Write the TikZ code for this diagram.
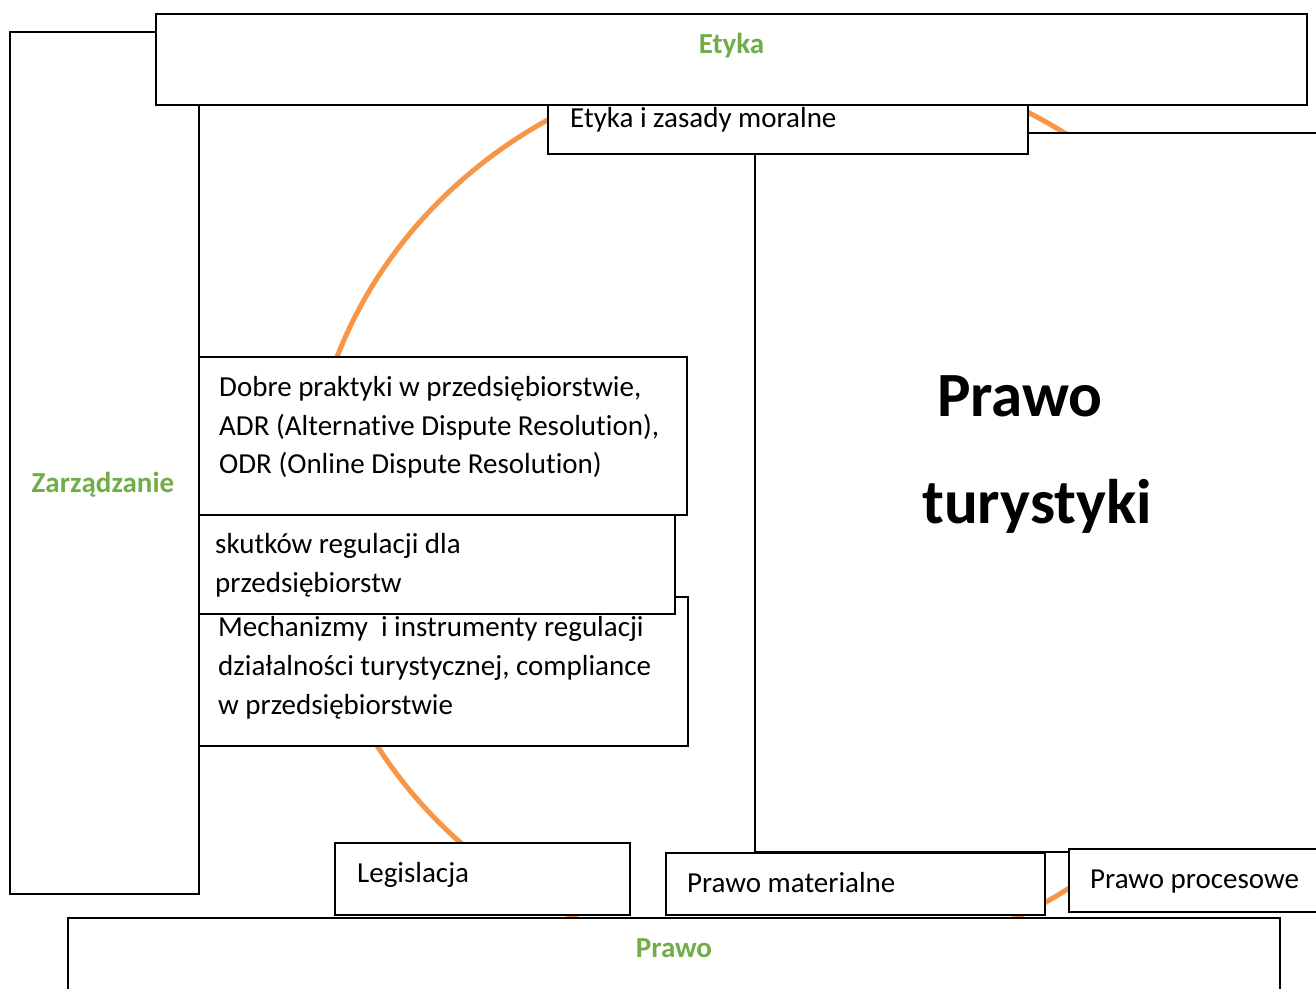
\documentclass[tikz,border=0pt]{standalone}
\usepackage{fontspec}
\setmainfont{Carlito}[Ligatures={NoCommon}, RawFeature={-liga;-clig}]
\usetikzlibrary{shapes.geometric}
\definecolor{titlegreen}{HTML}{70AD47}
\definecolor{arcorange}{HTML}{F79646}
\tikzset{
  box/.style={draw=black, line width=1.6pt, fill=white, inner sep=0pt, outer sep=0pt, anchor=north west},
  txt/.style={anchor=base west, inner sep=0pt, font=\fontsize{29}{38}\selectfont},
  title/.style={anchor=base, inner sep=0pt, text=titlegreen, font=\fontsize{29}{38}\selectfont\bfseries},
  bigtxt/.style={anchor=base west, inner sep=0pt, font=\fontsize{63}{100}\selectfont\bfseries},
  ring/.style={ellipse, draw=arcorange, line width=5pt, inner sep=0pt}
}
\begin{document}
\begin{tikzpicture}[x=1pt,y=-1pt]
\useasboundingbox (0,0) rectangle (1316,988);
\clip (0,0) rectangle (1316,988);
\fill[white] (0,0) rectangle (1316,988);
% orange cycle
\node[ring, minimum width=974pt, minimum height=910pt] (cycle) at (795,512) {};
% Zarzadzanie
\node[box, minimum width=189pt, minimum height=862pt] (zarz) at (10,32) {};
\node[title] (zarzt) at (103,492) {Zarządzanie};
% big Prawo turystyki box
\node[box, minimum width=600pt, minimum height=719pt] (pt) at (755,133) {};
\node[bigtxt] (pt1) at (937,416) {Prawo};
\node[bigtxt] (pt2) at (922,523) {turystyki};
% Etyka i zasady moralne
\node[box, minimum width=480pt, minimum height=59pt] (ezm) at (548,95) {};
\node[txt] (ezmt) at (570,127) {Etyka i zasady moralne};
% Etyka
\node[box, minimum width=1151pt, minimum height=91pt] (ety) at (156,14) {};
\node[title] (etyt) at (731.5,53) {Etyka};
% Mechanizmy
\node[box, minimum width=489pt, minimum height=149pt] (mech) at (199,597) {};
\node[txt] (mech1) at (218,636) {Mechanizmy\ \ i instrumenty regulacji};
\node[txt] (mech2) at (218,675) {działalności turystycznej, compliance};
\node[txt] (mech3) at (218,714) {w przedsiębiorstwie};
% skutkow
\node[box, minimum width=476pt, minimum height=134pt] (skut) at (199,480) {};
\node[txt] (skut1) at (215,553) {skutków regulacji dla};
\node[txt] (skut2) at (215,592) {przedsiębiorstw};
% Dobre praktyki
\node[box, minimum width=488pt, minimum height=158pt] (dobre) at (199,357) {};
\node[txt] (dobre1) at (219,396) {Dobre praktyki w przedsiębiorstwie,};
\node[txt] (dobre2) at (219,435) {ADR (Alternative Dispute Resolution),};
\node[txt] (dobre3) at (219,473) {ODR (Online Dispute Resolution)};
% Legislacja
\node[box, minimum width=295pt, minimum height=72pt] (legis) at (335,843) {};
\node[txt] (legist) at (357,882) {Legislacja};
% Prawo materialne
\node[box, minimum width=379pt, minimum height=62pt] (pmat) at (666,853) {};
\node[txt] (pmatt) at (687,892) {Prawo materialne};
% Prawo procesowe
\node[box, minimum width=280pt, minimum height=63pt] (pproc) at (1069,849) {};
\node[txt] (pproct) at (1090,888) {Prawo procesowe};
% Prawo
\node[box, minimum width=1212pt, minimum height=100pt] (prawo) at (68,918) {};
\node[title] (prawot) at (674,957) {Prawo};
\end{tikzpicture}
\end{document}
